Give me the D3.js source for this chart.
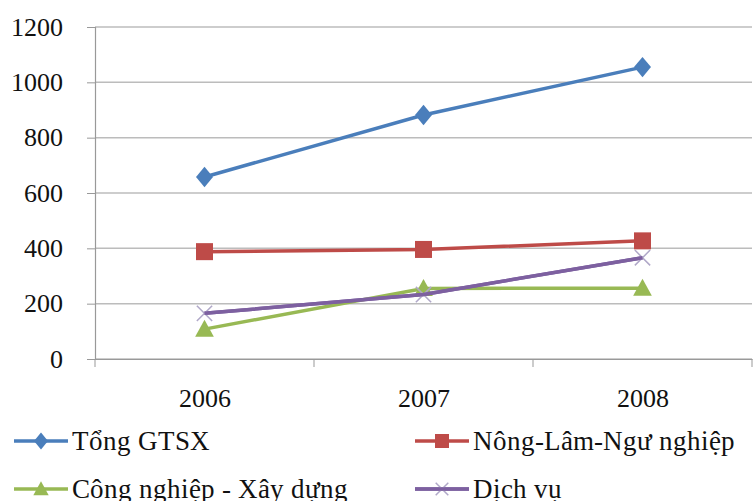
<!DOCTYPE html>
<html><head><meta charset="utf-8">
<script src="https://cdn.jsdelivr.net/npm/d3@7"></script>
<style>
@font-face{font-family:"RefSerif";src:local("Liberation Serif"),local("LiberationSerif"),local("Tinos"),local("Times New Roman");}
</style>
</head><body style="margin:0;background:#fff"><svg id="c" width="755" height="501" style="display:block"></svg>
<script>
const categories = ["2006","2007","2008"];
const tongGTSX = [658, 882, 1055];
const nongLamNgu = [388, 396, 427];
const congNghiepXD = [108, 255, 256];
const dichVu = [165, 233, 366];
const yTicks = [0,200,400,600,800,1000,1200];
const seriesNames = ["Tổng GTSX","Nông-Lâm-Ngư nghiệp","Công nghiệp - Xây dựng","Dịch vụ"];

const colors = ["#4a7ebb","#be4b48","#98b954","#7d60a0"];
const shapes = ["diamond","square","triangle","x"];
const series = [tongGTSX, nongLamNgu, congNghiepXD, dichVu].map((v,i)=>({name:seriesNames[i], values:v, color:colors[i], shape:shapes[i]}));

const FONT = 'RefSerif, Tinos, "Liberation Serif", "Times New Roman"';
const svg = d3.select("#c");
const L=95, R=752, T=27, B=359;
const x = d3.scaleBand().domain(categories).range([L,R]);
const y = d3.scaleLinear().domain([0,1200]).range([B,T]);

svg.append("g").selectAll("line").data(yTicks).join("line")
  .attr("x1",L).attr("x2",R).attr("y1",d=>y(d)).attr("y2",d=>y(d))
  .attr("stroke","#bcbcbc").attr("stroke-width",1.5);

const ya = svg.append("g").attr("transform",`translate(${L},0)`)
  .call(d3.axisLeft(y).tickValues(yTicks).tickFormat(d3.format("d")).tickSize(8).tickPadding(24));
ya.attr("font-family",null).attr("font-size",null);
ya.select(".domain").attr("stroke","#999").attr("stroke-width",1.2);
ya.selectAll(".tick line").attr("stroke","#999");
ya.selectAll("text").style("font-family",FONT).attr("font-size",26).attr("fill","#111");

const xa = svg.append("g").attr("transform",`translate(0,${B})`)
  .call(d3.axisBottom(x).tickSize(0).tickPadding(30));
xa.attr("font-family",null).attr("font-size",null);
xa.select(".domain").attr("stroke","#999").attr("stroke-width",1.2);
xa.selectAll("text").style("font-family",FONT).attr("font-size",26).attr("fill","#111");
const bounds = categories.map(c=>x(c)).concat([R]);
svg.append("g").selectAll("line").data(bounds).join("line")
  .attr("x1",d=>d).attr("x2",d=>d).attr("y1",B).attr("y2",B+8)
  .attr("stroke","#999").attr("stroke-width",1);

function marker(g, shape, color, s){
  if(shape==="diamond"){
    g.append("path").attr("d",`M0,${-s*0.6}L${s*0.5},0L0,${s*0.6}L${-s*0.5},0Z`).attr("fill",color);
  } else if(shape==="square"){
    g.append("rect").attr("x",-s/2).attr("y",-s/2).attr("width",s).attr("height",s).attr("fill",color);
  } else if(shape==="triangle"){
    g.append("path").attr("d",`M0,${-s*0.55}L${s*0.55},${s*0.45}L${-s*0.55},${s*0.45}Z`).attr("fill",color);
  } else {
    const h=s*0.45;
    g.append("path").attr("d",`M${-h},${-h}L${h},${h}M${-h},${h}L${h},${-h}`).attr("stroke","#b0a8c8").attr("stroke-width",1.5);
  }
}

const cx = c => x(c)+x.bandwidth()/2;
const line = d3.line().x((d,i)=>cx(categories[i])).y(d=>y(d));
series.forEach(s=>{
  svg.append("path").datum(s.values).attr("d",line).attr("fill","none")
    .attr("stroke",s.color).attr("stroke-width",3.5);
  s.values.forEach((v,i)=>{
    const g = svg.append("g").attr("transform",`translate(${cx(categories[i])},${y(v)})`);
    marker(g, s.shape, s.color, 17);
  });
});
svg.append("path").datum(dichVu).attr("d",line).attr("fill","none").attr("stroke",colors[3]).attr("stroke-width",3.5);

const legPos = [[14,441],[415,441],[14,489],[415,489]];
series.forEach((s,i)=>{
  const [lx,ly]=legPos[i];
  const g = svg.append("g");
  g.append("line").attr("x1",lx).attr("x2",lx+54).attr("y1",ly).attr("y2",ly).attr("stroke",s.color).attr("stroke-width",3.5);
  const m = g.append("g").attr("transform",`translate(${lx+27},${ly})`);
  marker(m, s.shape, s.color, 14);
  if(s.shape==="x") g.append("line").attr("x1",lx).attr("x2",lx+54).attr("y1",ly).attr("y2",ly).attr("stroke",s.color).attr("stroke-width",3.5);
  g.append("text").attr("x",lx+58).attr("y",ly+9).text(s.name)
    .style("font-family",FONT).attr("font-size",27).attr("fill","#111");
});
</script></body></html>
